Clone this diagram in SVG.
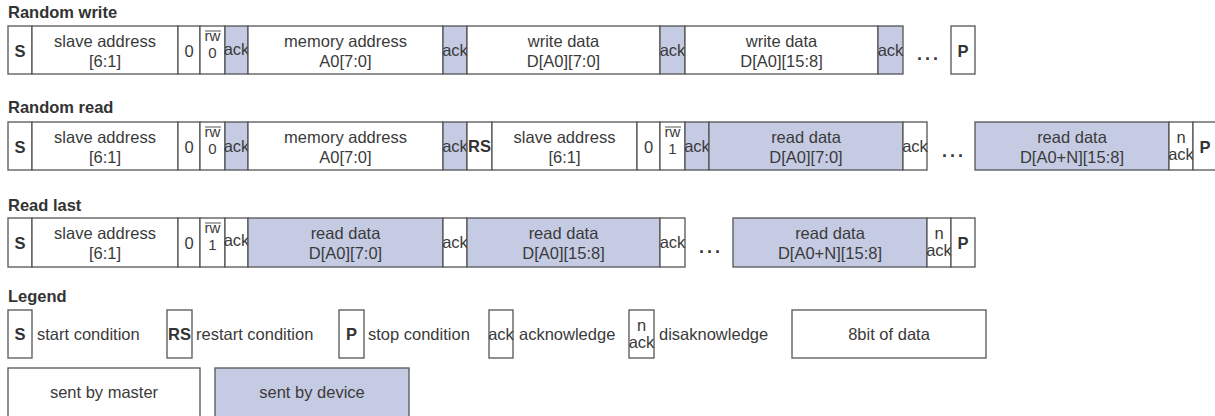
<svg xmlns="http://www.w3.org/2000/svg" width="1215" height="416" viewBox="0 0 1215 416">
<style>
.c{fill:#ffffff;stroke:#555555;stroke-width:1.3}
.d{fill:#c6cbe4;stroke:#555555;stroke-width:1.3}
.t{font-family:"Liberation Sans",Arial,sans-serif;font-size:16.5px;fill:#3a3a3a;text-anchor:middle}
.s{font-family:"Liberation Sans",Arial,sans-serif;font-size:15px;fill:#3a3a3a;text-anchor:middle}
.l{font-family:"Liberation Sans",Arial,sans-serif;font-size:16.5px;fill:#3a3a3a}
.b{font-family:"Liberation Sans",Arial,sans-serif;font-size:16.5px;font-weight:bold;fill:#333333;text-anchor:middle}
.h{font-family:"Liberation Sans",Arial,sans-serif;font-size:16.5px;font-weight:bold;fill:#333333}
.o{stroke:#555555;stroke-width:1}
.dots{font-family:"Liberation Sans",Arial,sans-serif;font-size:18px;font-weight:bold;fill:#3a3a3a;text-anchor:middle;letter-spacing:3px}
</style>
<rect width="1215" height="416" fill="#ffffff"/>
<g id="connectors"/>

<!-- Row 1: Random write -->
<text class="h" x="8" y="18">Random write</text>
<g id="rw-S"><rect class="c" x="8" y="26" width="24" height="48"/><text class="b" x="20" y="57">S</text></g>
<g id="rw-slave"><rect class="c" x="32" y="26" width="146" height="48"/><text class="t" x="105" y="47">slave address</text><text class="t" x="105" y="67">[6:1]</text></g>
<g id="rw-0"><rect class="c" x="178" y="26" width="22" height="48"/><text class="t" x="189" y="57">0</text></g>
<g id="rw-rw"><rect class="c" x="200" y="26" width="25" height="48"/><line class="o" x1="205" y1="31" x2="221" y2="31"/><text class="s" x="212.5" y="41">rw</text><text class="s" x="212.5" y="58">0</text></g>
<g id="rw-ack1"><rect class="d" x="225" y="26" width="23" height="48"/><text class="t" x="236.5" y="55">ack</text></g>
<g id="rw-mem"><rect class="c" x="248" y="26" width="195" height="48"/><text class="t" x="345.5" y="47">memory address</text><text class="t" x="345.5" y="67">A0[7:0]</text></g>
<g id="rw-ack2"><rect class="d" x="443" y="26" width="24" height="48"/><text class="t" x="455" y="56">ack</text></g>
<g id="rw-wd1"><rect class="c" x="467" y="26" width="193" height="48"/><text class="t" x="563.5" y="47">write data</text><text class="t" x="563.5" y="67">D[A0][7:0]</text></g>
<g id="rw-ack3"><rect class="d" x="660" y="26" width="25" height="48"/><text class="t" x="672.5" y="56">ack</text></g>
<g id="rw-wd2"><rect class="c" x="685" y="26" width="193" height="48"/><text class="t" x="781.5" y="47">write data</text><text class="t" x="781.5" y="67">D[A0][15:8]</text></g>
<g id="rw-ack4"><rect class="d" x="878" y="26" width="25" height="48"/><text class="t" x="890.5" y="56">ack</text></g>
<text class="dots" x="929" y="60">...</text>
<g id="rw-P"><rect class="c" x="951" y="26" width="24" height="48"/><text class="b" x="963" y="57">P</text></g>

<!-- Row 2: Random read -->
<text class="h" x="8" y="113">Random read</text>
<g id="rr-S"><rect class="c" x="8" y="122" width="24" height="48"/><text class="b" x="20" y="153">S</text></g>
<g id="rr-slave"><rect class="c" x="32" y="122" width="146" height="48"/><text class="t" x="105" y="143">slave address</text><text class="t" x="105" y="163">[6:1]</text></g>
<g id="rr-0"><rect class="c" x="178" y="122" width="22" height="48"/><text class="t" x="189" y="153">0</text></g>
<g id="rr-rw"><rect class="c" x="200" y="122" width="25" height="48"/><line class="o" x1="205" y1="127" x2="221" y2="127"/><text class="s" x="212.5" y="137">rw</text><text class="s" x="212.5" y="154">0</text></g>
<g id="rr-ack1"><rect class="d" x="225" y="122" width="23" height="48"/><text class="t" x="236.5" y="152">ack</text></g>
<g id="rr-mem"><rect class="c" x="248" y="122" width="195" height="48"/><text class="t" x="345.5" y="143">memory address</text><text class="t" x="345.5" y="163">A0[7:0]</text></g>
<g id="rr-ack2"><rect class="d" x="443" y="122" width="24" height="48"/><text class="t" x="455" y="152">ack</text></g>
<g id="rr-RS"><rect class="c" x="467" y="122" width="25" height="48"/><text class="b" x="479.5" y="152">RS</text></g>
<g id="rr-slave2"><rect class="c" x="492" y="122" width="145" height="48"/><text class="t" x="564.5" y="143">slave address</text><text class="t" x="564.5" y="163">[6:1]</text></g>
<g id="rr-0b"><rect class="c" x="637" y="122" width="23" height="48"/><text class="t" x="648.5" y="153">0</text></g>
<g id="rr-rw2"><rect class="c" x="660" y="122" width="25" height="48"/><line class="o" x1="665" y1="127" x2="681" y2="127"/><text class="s" x="672.5" y="137">rw</text><text class="s" x="672.5" y="154">1</text></g>
<g id="rr-ack3"><rect class="d" x="685" y="122" width="24" height="48"/><text class="t" x="697" y="152">ack</text></g>
<g id="rr-rd1"><rect class="d" x="709" y="122" width="194" height="48"/><text class="t" x="806" y="143">read data</text><text class="t" x="806" y="163">D[A0][7:0]</text></g>
<g id="rr-ack4"><rect class="c" x="903" y="122" width="24" height="48"/><text class="t" x="915" y="152">ack</text></g>
<text class="dots" x="954" y="157">...</text>
<g id="rr-rd2"><rect class="d" x="975" y="122" width="194" height="48"/><text class="t" x="1072" y="143">read data</text><text class="t" x="1072" y="163">D[A0+N][15:8]</text></g>
<g id="rr-nack"><rect class="c" x="1169" y="122" width="24" height="48"/><text class="t" x="1181" y="143">n</text><text class="t" x="1181" y="160">ack</text></g>
<g id="rr-P"><rect class="c" x="1193" y="122" width="24" height="48"/><text class="b" x="1205" y="153">P</text></g>

<!-- Row 3: Read last -->
<text class="h" x="8" y="211">Read last</text>
<g id="rl-S"><rect class="c" x="8" y="218" width="24" height="49"/><text class="b" x="20" y="249">S</text></g>
<g id="rl-slave"><rect class="c" x="32" y="218" width="146" height="49"/><text class="t" x="105" y="239">slave address</text><text class="t" x="105" y="259">[6:1]</text></g>
<g id="rl-0"><rect class="c" x="178" y="218" width="22" height="49"/><text class="t" x="189" y="249">0</text></g>
<g id="rl-rw"><rect class="c" x="200" y="218" width="25" height="49"/><line class="o" x1="205" y1="223" x2="221" y2="223"/><text class="s" x="212.5" y="233">rw</text><text class="s" x="212.5" y="250">1</text></g>
<g id="rl-ack1"><rect class="c" x="225" y="218" width="23" height="49"/><text class="t" x="236.5" y="246">ack</text></g>
<g id="rl-rd1"><rect class="d" x="248" y="218" width="195" height="49"/><text class="t" x="345.5" y="239">read data</text><text class="t" x="345.5" y="259">D[A0][7:0]</text></g>
<g id="rl-ack2"><rect class="c" x="443" y="218" width="24" height="49"/><text class="t" x="455" y="248">ack</text></g>
<g id="rl-rd2"><rect class="d" x="467" y="218" width="193" height="49"/><text class="t" x="563.5" y="239">read data</text><text class="t" x="563.5" y="259">D[A0][15:8]</text></g>
<g id="rl-ack3"><rect class="c" x="660" y="218" width="25" height="49"/><text class="t" x="672.5" y="248">ack</text></g>
<text class="dots" x="711" y="253">...</text>
<g id="rl-rd3"><rect class="d" x="733" y="218" width="194" height="49"/><text class="t" x="830" y="239">read data</text><text class="t" x="830" y="259">D[A0+N][15:8]</text></g>
<g id="rl-nack"><rect class="c" x="927" y="218" width="24" height="49"/><text class="t" x="939" y="239">n</text><text class="t" x="939" y="256">ack</text></g>
<g id="rl-P"><rect class="c" x="951" y="218" width="24" height="49"/><text class="b" x="963" y="249">P</text></g>

<!-- Legend -->
<text class="h" x="8" y="302">Legend</text>
<g id="lg-S"><rect class="c" x="8" y="310" width="24" height="48"/><text class="b" x="20" y="340">S</text><text class="l" x="37" y="340">start condition</text></g>
<g id="lg-RS"><rect class="c" x="167" y="310" width="25" height="48"/><text class="b" x="179.5" y="340">RS</text><text class="l" x="196" y="340">restart condition</text></g>
<g id="lg-P"><rect class="c" x="339" y="310" width="25" height="48"/><text class="b" x="351.5" y="340">P</text><text class="l" x="368" y="340">stop condition</text></g>
<g id="lg-ack"><rect class="c" x="489" y="310" width="24" height="48"/><text class="t" x="501" y="340">ack</text><text class="l" x="519" y="340">acknowledge</text></g>
<g id="lg-nack"><rect class="c" x="629" y="310" width="25" height="48"/><text class="t" x="641.5" y="331">n</text><text class="t" x="641.5" y="348">ack</text><text class="l" x="659" y="340">disaknowledge</text></g>
<g id="lg-8bit"><rect class="c" x="792" y="310" width="194" height="48"/><text class="t" x="889" y="340">8bit of data</text></g>
<g id="lg-master"><rect class="c" x="8" y="368" width="192" height="50"/><text class="t" x="104" y="398">sent by master</text></g>
<g id="lg-device"><rect class="d" x="215" y="368" width="194" height="50"/><text class="t" x="312" y="398">sent by device</text></g>
</svg>
